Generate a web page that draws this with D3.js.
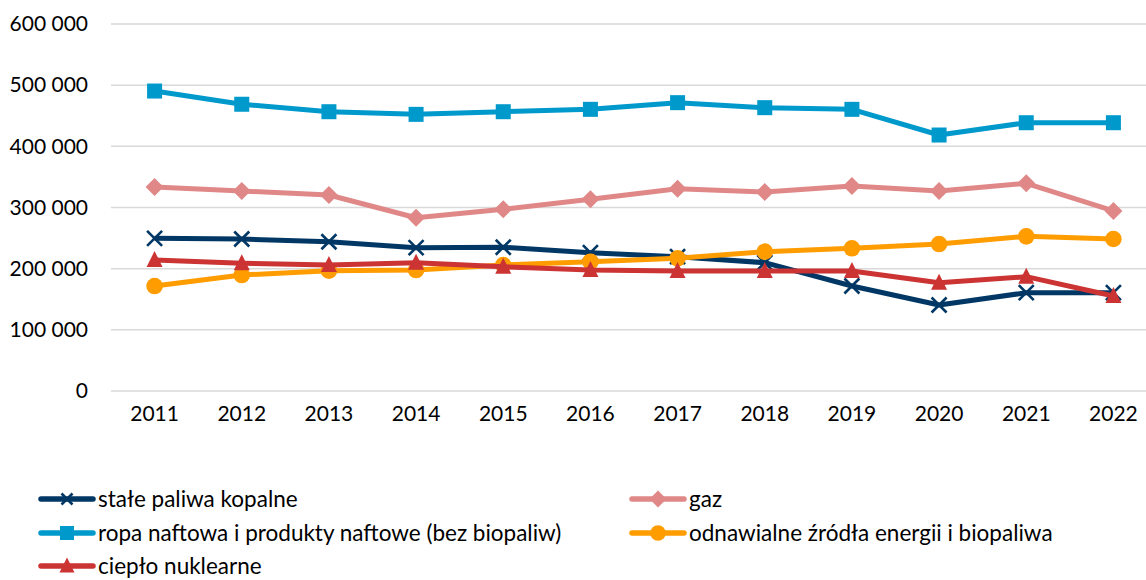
<!DOCTYPE html>
<html><head><meta charset="utf-8">
<script src="https://cdn.jsdelivr.net/npm/d3@7"></script>
<style>
html,body{margin:0;padding:0;background:#fff;}
svg{display:block;font-family:Lato, "Open Sans", sans-serif;}
</style></head>
<body>
<svg id="c" width="1146" height="580"></svg>
<script>
const years = ["2011","2012","2013","2014","2015","2016","2017","2018","2019","2020","2021","2022"];
const yTicks = [0,100000,200000,300000,400000,500000,600000];
const coal = [249600,248500,244000,234300,235000,226100,219600,209800,171700,140600,160700,160700];
const gas = [333500,327000,320400,283300,297000,313400,330700,325300,335100,327000,339500,294300];
const oil = [490400,468800,456600,452300,456600,460500,471400,463200,460500,418500,438600,438600];
const renew = [171600,189600,196700,197800,206000,211400,216900,227800,233300,240300,252800,248500];
const nuclear = [214200,208800,206000,209700,203200,197800,196200,196200,196200,177000,186900,155300];

const names = ["stałe paliwa kopalne","gaz","ropa naftowa i produkty naftowe (bez biopaliw)","odnawialne źródła energii i biopaliwa","ciepło nuklearne"];
const colors = ["#003764","#e08888","#0099cc","#ff9c00","#cc3333"];
const symbols = ["x","diamond","square","circle","triangle"];
const data = [coal,gas,oil,renew,nuclear];

const svg = d3.select("#c");
const x = d3.scaleBand().domain(years).range([111,1157]);
const y = d3.scaleLinear().domain([0,600000]).range([391,24]);
const fmt = v => d3.format(",")(v).replace(/,/g," ");

// gridlines
svg.append("g").selectAll("line").data(yTicks).join("line")
  .attr("x1",111).attr("x2",1157)
  .attr("y1",d=>y(d)).attr("y2",d=>y(d))
  .attr("stroke","#d9d9d9").attr("stroke-width",1.5);

// y axis labels
const yAxis = svg.append("g").attr("transform","translate(88,0)")
  .call(d3.axisLeft(y).tickValues(yTicks).tickFormat(fmt).tickSize(0).tickPadding(0));
yAxis.select(".domain").remove();
yAxis.selectAll("text").attr("font-size",21).attr("fill","#000").attr("font-family","Lato");

// x axis labels
const xAxis = svg.append("g").attr("transform","translate(0,406)")
  .call(d3.axisBottom(x).tickSize(0).tickPadding(0));
xAxis.select(".domain").remove();
xAxis.selectAll("text").attr("font-size",21).attr("fill","#000").attr("font-family","Lato");

function drawMarker(g, sym, color, cx, cy, s){
  if(sym==="x"){
    const h=s/2;
    g.append("path").attr("d",`M${cx-h},${cy-h}L${cx+h},${cy+h}M${cx-h},${cy+h}L${cx+h},${cy-h}`)
      .attr("stroke",color).attr("stroke-width",2.6).attr("fill","none");
  } else if(sym==="square"){
    g.append("rect").attr("x",cx-s/2).attr("y",cy-s/2).attr("width",s).attr("height",s).attr("fill",color);
  } else if(sym==="diamond"){
    const h=s/2+1.5;
    g.append("path").attr("d",`M${cx},${cy-h}L${cx+h},${cy}L${cx},${cy+h}L${cx-h},${cy}Z`).attr("fill",color);
  } else if(sym==="circle"){
    g.append("circle").attr("cx",cx).attr("cy",cy).attr("r",s/2+0.8).attr("fill",color);
  } else if(sym==="triangle"){
    const h=s/2+0.5;
    g.append("path").attr("d",`M${cx},${cy-h-1}L${cx+h},${cy+h-1}L${cx-h},${cy+h-1}Z`).attr("fill",color);
  }
}

const line = d3.line().x((d,i)=>x(years[i])+x.bandwidth()/2).y(d=>y(d));
data.forEach((vals,k)=>{
  const g = svg.append("g");
  g.append("path").datum(vals).attr("d",line).attr("fill","none")
    .attr("stroke",colors[k]).attr("stroke-width",5).attr("stroke-linejoin","round");
  vals.forEach((v,i)=>drawMarker(g,symbols[k],colors[k],x(years[i])+x.bandwidth()/2,y(v),15));
});

// legend
const legPos = [[39,499],[630,499],[39,533],[630,533],[39,566]];
names.forEach((n,k)=>{
  const [lx,ly] = legPos[k];
  const g = svg.append("g");
  g.append("line").attr("x1",lx+2).attr("x2",lx+54).attr("y1",ly).attr("y2",ly)
    .attr("stroke",colors[k]).attr("stroke-width",5.5).attr("stroke-linecap","round");
  drawMarker(g,symbols[k],colors[k],lx+28,ly,symbols[k]==="x"?11:14);
  g.append("text").attr("x",lx+59).attr("y",ly).attr("dy","0.35em")
    .attr("font-size",22.5).attr("font-family","Lato").attr("fill","#000").text(n);
});
</script>
</body></html>
